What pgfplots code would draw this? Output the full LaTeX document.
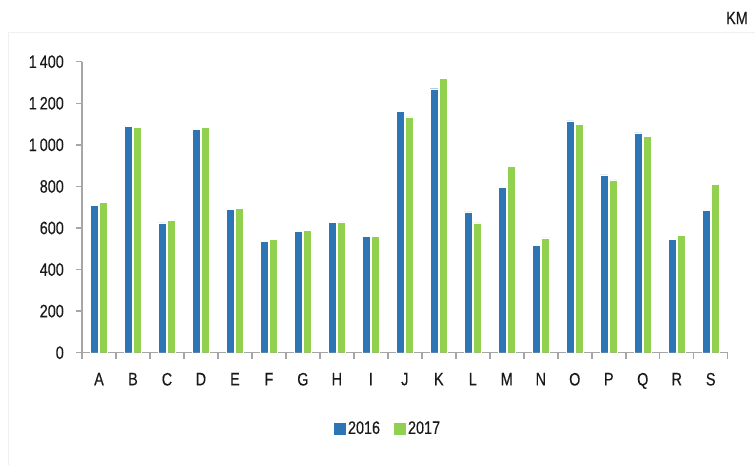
\documentclass[border=0pt]{standalone}
\usepackage{pgfplots}
\pgfplotsset{compat=1.18}
\usepackage{fontspec}
\setmainfont{Liberation Sans}[FakeStretch=0.8, FakeBold=0.3]
\definecolor{cblue}{HTML}{2E75B6}
\definecolor{cgreen}{HTML}{92D050}
\definecolor{axgray}{HTML}{A6A6A6}
\begin{document}
\fontsize{18bp}{21bp}\selectfont
\begin{tikzpicture}
\useasboundingbox (0,0) rectangle (755bp,465bp);
\draw[gray!12, line width=0.8bp] (8bp,-5bp) -- (8bp,433bp) -- (760bp,433bp);
\node[anchor=center, text=black!90] at (737bp,447bp) {KM};
\begin{axis}[
  scale only axis,
  width=645.7bp, height=291bp,
  at={(82bp,112.3bp)}, anchor=south west,
  ybar=1.3bp, bar width=8bp,
  xmin=-0.5, xmax=18.5, ymin=0, ymax=1400,
  xtick={0,...,18},
  xticklabels={A,B,C,D,E,F,G,H,I,J,K,L,M,N,O,P,Q,R,S},
  minor xtick={-0.5,0.5,...,18.5},
  ytick={0,200,...,1400},
  yticklabels={0,200,400,600,800,1\,000,1\,200,1\,400},
  ticklabel style={text=black!90},
  axis x line*=bottom, axis y line*=left,
  axis line style={axgray, line width=1.5bp, -},
  tick align=outside,
  major tick length=6bp, minor tick length=6bp,
  major x tick style={draw=none},
  minor x tick style={axgray, line width=1.5bp},
  major y tick style={axgray, line width=1.5bp},
  yticklabel style={xshift=-6bp},
  xticklabel style={yshift=-8bp},
  legend style={at={(0.474,-0.262)}, anchor=center, draw=none, fill=none,
    legend columns=2, /tikz/every even column/.append style={column sep=12bp},
    font=\fontsize{18bp}{21bp}\selectfont, text=black!90},
  legend image code/.code={\fill[#1, draw=none] (0bp,-6bp) rectangle (12bp,6bp);},
]
\addplot[fill=cblue, draw=white, line width=0.4bp] coordinates {
(0,709) (1,1089) (2,625) (3,1074) (4,688) (5,537) (6,585) (7,627) (8,561)
(9,1161) (10,1270) (11,678) (12,794) (13,518) (14,1115) (15,855) (16,1058) (17,547) (18,685)};
\addplot[fill=cgreen, draw=white, line width=0.4bp] coordinates {
(0,725) (1,1084) (2,638) (3,1084) (4,694) (5,547) (6,590) (7,629) (8,561)
(9,1135) (10,1321) (11,624) (12,896) (13,552) (14,1099) (15,831) (16,1042) (17,565) (18,811)};
\legend{2016,2017}
\end{axis}
\end{tikzpicture}
\end{document}
